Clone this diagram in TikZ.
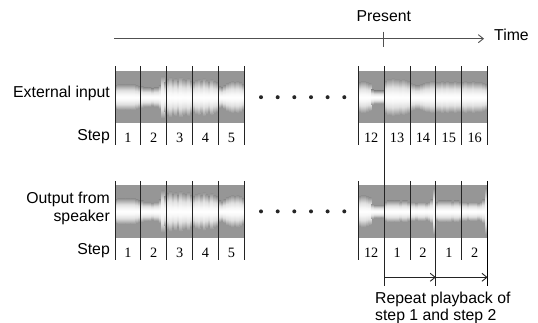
\documentclass[tikz,border=0pt]{standalone}
\usepackage{fontspec}
\setmainfont{Liberation Sans}
\newfontfamily\numfont{Liberation Serif}
\usetikzlibrary{arrows.meta}
\definecolor{wavegray}{RGB}{150,150,150}
\definecolor{linecol}{RGB}{35,35,35}
\definecolor{axiscol}{RGB}{80,80,80}
\pgfdeclareverticalshading{band}{100bp}{color(0bp)=(wavegray); color(25bp)=(wavegray); color(36bp)=(white!70!wavegray); color(44bp)=(white!92!wavegray); color(50bp)=(white); color(56bp)=(white!92!wavegray); color(64bp)=(white!70!wavegray); color(75bp)=(wavegray); color(100bp)=(wavegray)}
% #1 left x, #2 centre y, #3 list of amplitudes (10 per cell)
\newcommand\wavestrip[3]{%
  \fill[wavegray] (#1,#2-26.15) rectangle (#1+129.35,#2+26.15);
  \foreach \a [count=\i from 0] in {#3} {
    \shade[shading=band] (#1+\i*2.587,#2-\a*1.05-2) rectangle (#1+\i*2.587+2.7,#2+\a*1.05+2);
  }%
}
\begin{document}
\begin{tikzpicture}[x=1pt,y=-1pt,
  lbl/.style={font=\fontsize{15.8}{17}\selectfont, inner sep=0pt},
  num/.style={font=\numfont\fontsize{14.3}{15}\selectfont, inner sep=0pt, anchor=base},
  sep/.style={draw=linecol, line width=0.9pt},
  axis/.style={draw=axiscol, line width=0.9pt},
  barb/.style={-{Straight Barb[length=5pt,width=8pt]}},
  dotm/.style={circle, fill=black!85, inner sep=0pt, minimum size=4pt}]
\useasboundingbox (0,0) rectangle (538,323);

% time axis
\coordinate (t0) at (114.3,38.7);
\coordinate (t1) at (484,38.7);
\draw[axis, barb] (t0) -- (t1);
\coordinate (pt0) at (383.8,31.7);
\coordinate (pt1) at (383.8,46.7);
\draw[axis] (pt0) -- (pt1);
\node[lbl, anchor=base] (present) at (383.8,21.3) {Present};
\node[lbl, anchor=base west] (time) at (494,40.6) {Time};

% waveforms
\wavestrip{115}{97.2}{9,10,10,10,10,10,10,10,9,8,
8,7,7,7,6,7,7,9,18,12,
15,17,14,16,13,17,15,14,16,13,
12,14,15,13,16,14,12,15,13,12,
8,7,9,11,12,13,12,13,12,10}
\wavestrip{358.3}{97.2}{12,13,13,12,11,5,4,4,4,4,
13,15,15,16,15,15,14,15,14,13,
11,10,9,9,10,11,12,12,13,13,
12,12,13,12,13,12,12,13,12,12,
12,13,12,12,13,12,12,12,11,10}
\wavestrip{115}{211.4}{9,10,10,10,10,10,10,10,9,8,
8,7,7,7,6,7,7,9,18,12,
15,17,14,16,13,17,15,14,16,13,
12,14,15,13,16,14,12,15,13,12,
8,7,9,11,12,13,12,13,12,10}
\wavestrip{358.3}{211.4}{12,13,13,12,11,5,4,4,4,4,
7,8,8,8,8,8,7,8,8,7,
7,7,6,7,7,7,6,7,9,20,
7,8,8,8,8,8,7,8,8,7,
7,7,6,7,7,7,6,7,9,20}

% separators, top strips
\foreach \x in {115,140.87,166.74,192.61,218.48,244.35,358.3,410.04,435.91,461.78,487.65}
  \draw[sep] (\x,66.5) -- (\x,145);
% separators, bottom strips
\foreach \x in {115,140.87,166.74,192.61,218.48,244.35,358.3,410.04,461.78}
  \draw[sep] (\x,181) -- (\x,260);
\draw[sep] (435.91,181) -- (435.91,286);
\draw[sep, line width=1.4pt, draw=black] (487.65,181) -- (487.65,286);

% present line
\coordinate (p1) at (384.17,66.5);
\coordinate (p2) at (384.17,286);
\draw[sep] (p1) -- (p2);

% step numbers
\foreach \n [count=\i from 0] in {1,2,3,4,5}
  \node[num] at (127.93+\i*25.87,142.7) {\n};
\foreach \n [count=\i from 0] in {12,13,14,15,16}
  \node[num] at (371.23+\i*25.87,142.7) {\n};
\foreach \n [count=\i from 0] in {1,2,3,4,5}
  \node[num] at (127.93+\i*25.87,257.2) {\n};
\foreach \n [count=\i from 0] in {12,1,2,1,2}
  \node[num] at (371.23+\i*25.87,257.2) {\n};

% dots
\foreach \x in {261,277.7,294.3,311,327.6,344.3} {
  \node[dotm] at (\x,97.2) {};
  \node[dotm] at (\x,211.4) {};
}

% labels
\node[lbl, anchor=base east] (ext) at (110,98) {External input};
\node[lbl, anchor=base east] (step1) at (110,140.3) {Step};
\node[lbl, anchor=base east] (out1) at (110,203.5) {Output from};
\node[lbl, anchor=base east] (out2) at (110,221.3) {speaker};
\node[lbl, anchor=base east] (step2) at (110,254.6) {Step};

% repeat arrows
\coordinate (r0) at (384.17,277.3);
\coordinate (r1) at (435.91,277.3);
\coordinate (r2) at (487.65,277.3);
\draw[axis, draw=linecol, barb] (r0) -- (r1);
\draw[axis, draw=linecol, barb] (r1) -- (r2);
\node[lbl, anchor=base west] (rep1) at (375,303) {Repeat playback of};
\node[lbl, anchor=base west] (rep2) at (375,320.5) {step 1 and step 2};
\end{tikzpicture}
\end{document}
